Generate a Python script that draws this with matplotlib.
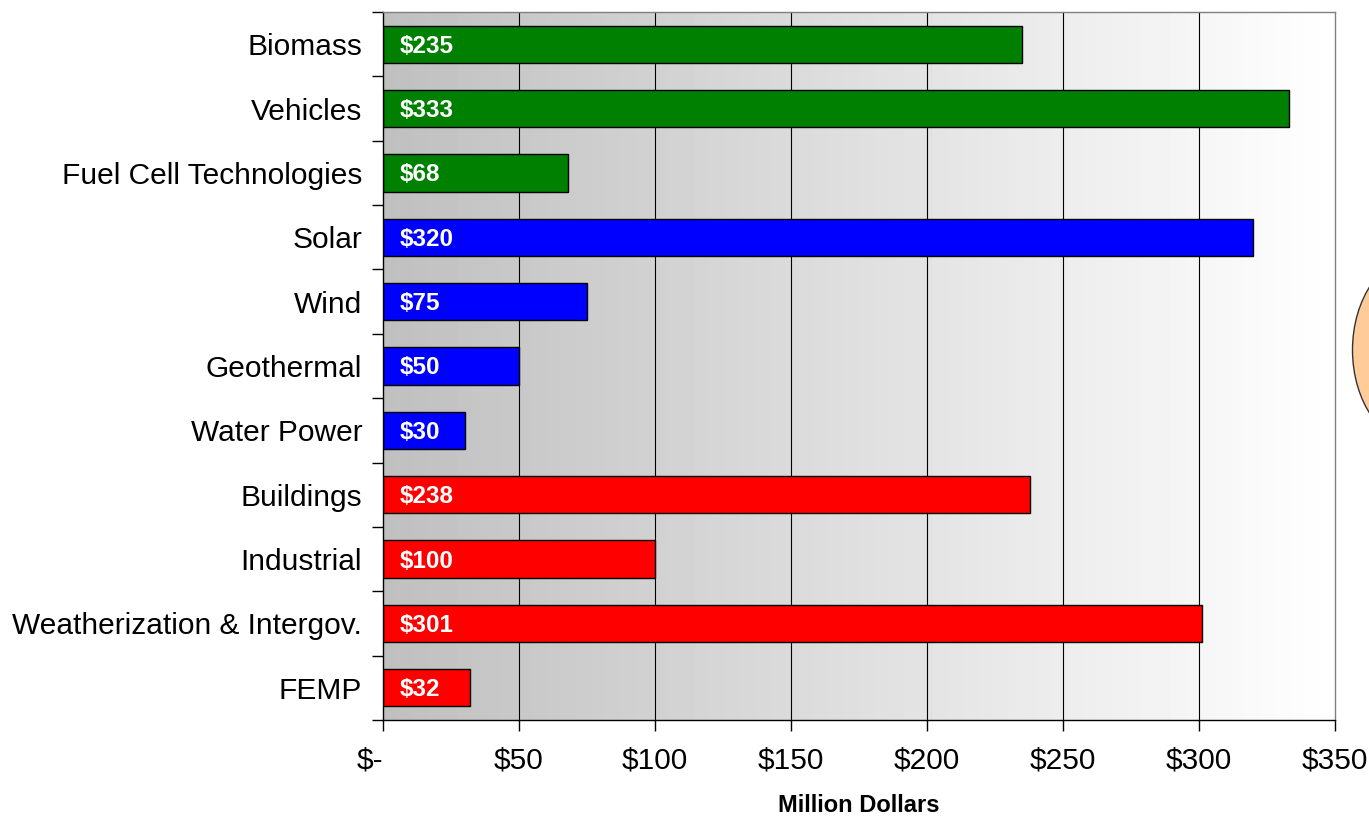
import matplotlib
matplotlib.use("Agg")
import matplotlib.pyplot as plt
import numpy as np
from matplotlib.patches import Ellipse

plt.rcParams['font.family'] = ['Liberation Sans', 'DejaVu Sans']

categories = ["Biomass", "Vehicles", "Fuel Cell Technologies", "Solar", "Wind",
              "Geothermal", "Water Power", "Buildings", "Industrial",
              "Weatherization & Intergov.", "FEMP"]
values = [235, 333, 68, 320, 75, 50, 30, 238, 100, 301, 32]
colors = ["#008000"] * 3 + ["#0000FF"] * 4 + ["#FF0000"] * 4
xticks = [0, 50, 100, 150, 200, 250, 300, 350]
xticklabels = ["$-", "$50", "$100", "$150", "$200", "$250", "$300", "$350"]

fig = plt.figure(figsize=(13.69, 8.18), dpi=100)
ax = fig.add_axes([383/1369, 1 - 720/818, (1335-383)/1369, (720-12)/818])

n = len(categories)
ypos = np.arange(n)
ax.set_xlim(0, 350)
ax.set_ylim(n - 0.5, -0.5)

# gradient background
grad = np.linspace(0.75, 1.0, 256).reshape(1, -1)
ax.imshow(grad, cmap='gray', vmin=0, vmax=1, aspect='auto',
          extent=[0, 350, n - 0.5, -0.5], zorder=0)

for x in xticks[1:-1]:
    ax.axvline(x, color='black', lw=0.8, zorder=1)

ax.barh(ypos, values, height=0.58, color=colors, edgecolor='black',
        linewidth=1.0, zorder=2)
for y, v in zip(ypos, values):
    ax.annotate(f"${v}", xy=(0, y), xytext=(17, -2), textcoords='offset pixels',
                color='white', fontsize=17.5, fontweight='bold',
                va='center', ha='left', zorder=3)

ax.set_yticks(ypos)
ax.set_yticklabels(categories, fontsize=21.5)
ax.set_yticks(np.arange(-0.5, n, 1.0), minor=True)
ax.tick_params(axis='y', which='major', length=0, pad=15)
ax.tick_params(axis='y', which='minor', length=8, width=1, direction='out')
ax.set_xticks(xticks)
ax.set_xticklabels(xticklabels, fontsize=21.5)
ax.get_xticklabels()[0].set_horizontalalignment('right')
ax.tick_params(axis='x', length=8, width=1, direction='out', pad=11)
ax.set_xlabel("Million Dollars", fontsize=17, fontweight='bold', labelpad=14)

for s in ['left', 'bottom']:
    ax.spines[s].set_color('black')
    ax.spines[s].set_linewidth(1.0)
for s in ['top', 'right']:
    ax.spines[s].set_color('#808080')
    ax.spines[s].set_linewidth(1.0)

# decorative ellipse at right edge
fig.patches.append(Ellipse((1420/1369, 1 - 350/818), 135/1369, 190/818,
                           transform=fig.transFigure, facecolor='#FFCC99',
                           edgecolor='#333333', lw=1.0))

fig.savefig("out.png", dpi=100)
